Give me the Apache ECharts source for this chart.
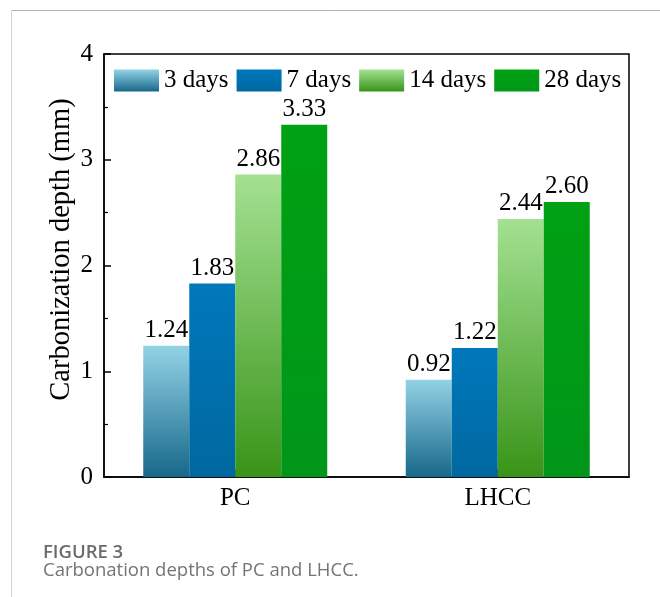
<!DOCTYPE html>
<html>
<head>
<meta charset="utf-8">
<script src="https://cdn.jsdelivr.net/npm/echarts@6/dist/echarts.min.js"></script>
<style>
html,body{margin:0;padding:0;background:#fff;}
#chart{width:660px;height:597px;}
</style>
</head>
<body>
<div id="chart"></div>
<script>
const categories = ['PC', 'LHCC'];
const seriesNames = ['3 days', '7 days', '14 days', '28 days'];
const days3 = [1.24, 0.92];
const days7 = [1.83, 1.22];
const days14 = [2.86, 2.44];
const days28 = [3.33, 2.60];
const yTicks = [0, 1, 2, 3, 4];
const yTitle = 'Carbonization depth (mm)';
const figLabel = 'FIGURE 3';
const figCaption = 'Carbonation depths of PC and LHCC.';

const SERIF = "'Liberation Serif', 'Times New Roman', serif";
function grad(top, bottom) {
  return new echarts.graphic.LinearGradient(0, 0, 0, 1, [
    { offset: 0, color: top }, { offset: 1, color: bottom }
  ]);
}
const colors = [
  grad('#93d2e6', '#17688a'),
  grad('#0078bb', '#0068a0'),
  grad('#a4e192', '#389418'),
  grad('#00a112', '#00961a')
];
const dataSets = [days3, days7, days14, days28];

const chart = echarts.init(document.getElementById('chart'), null, { renderer: 'canvas' });
const option = {
  animation: false,
  grid: {
    left: 104, right: 31, top: 54, bottom: 120,
    show: true, borderColor: '#000', borderWidth: 1.5, backgroundColor: 'transparent'
  },
  legend: {
    data: seriesNames,
    left: 109, top: 63,
    itemWidth: 45, itemHeight: 22, itemGap: 8,
    textStyle: { fontFamily: SERIF, fontSize: 25, color: '#000' },
    icon: 'rect'
  },
  xAxis: {
    type: 'category',
    data: categories,
    axisLine: { lineStyle: { color: '#000', width: 1.5 } },
    axisTick: { show: true, inside: true, alignWithLabel: true, length: 8, lineStyle: { color: '#000', width: 1.5 } },
    axisLabel: { fontFamily: SERIF, fontSize: 25, color: '#000', margin: 9 },
    splitLine: { show: false }
  },
  yAxis: {
    type: 'value',
    min: 0, max: 4, interval: 1,
    name: yTitle,
    nameLocation: 'middle',
    nameGap: 28,
    nameMoveOverlap: false,
    nameRotate: 90,
    nameTextStyle: { fontFamily: SERIF, fontSize: 28.5, color: '#000', padding: [0, 0, 0, 32] },
    axisLine: { show: true, lineStyle: { color: '#000', width: 1.5 } },
    axisTick: { show: true, inside: true, length: 7, lineStyle: { color: '#000', width: 1.5 } },
    minorTick: { show: true, splitNumber: 2, length: 4, lineStyle: { color: '#000', width: 1.2 } },
    axisLabel: {
      fontFamily: SERIF, fontSize: 25, color: '#000', margin: 11,
      formatter: function (v) { return yTicks.indexOf(v) >= 0 ? String(v) : ''; }
    },
    splitLine: { show: false }
  },
  series: seriesNames.map(function (name, i) {
    return {
      name: name,
      type: 'bar',
      data: dataSets[i],
      barWidth: 46,
      barGap: '0%',
      itemStyle: { color: colors[i] },
      label: {
        show: true, position: 'top', distance: 3,
        fontFamily: SERIF, fontSize: 25, color: '#000',
        formatter: function (p) { return p.value.toFixed(2); }
      }
    };
  }),
  graphic: [
    { type: 'line', shape: { x1: 11, y1: 10.5, x2: 660, y2: 10.5 }, style: { stroke: '#b4b4b4', lineWidth: 1 }, silent: true },
    { type: 'line', shape: { x1: 11.5, y1: 10, x2: 11.5, y2: 597 }, style: { stroke: '#d2d2d2', lineWidth: 1 }, silent: true },
    { type: 'text', x: 43, y: 553, style: { text: figLabel, fontFamily: "'Open Sans', sans-serif", fontWeight: 600, fontSize: 18.5, fill: '#6b6b6b', verticalAlign: 'middle' } },
    { type: 'text', x: 43, y: 571, style: { text: figCaption, fontFamily: "'Open Sans', sans-serif", fontSize: 18.5, fill: '#747474', verticalAlign: 'middle' } }
  ]
};
chart.setOption(option);
</script>
</body>
</html>
